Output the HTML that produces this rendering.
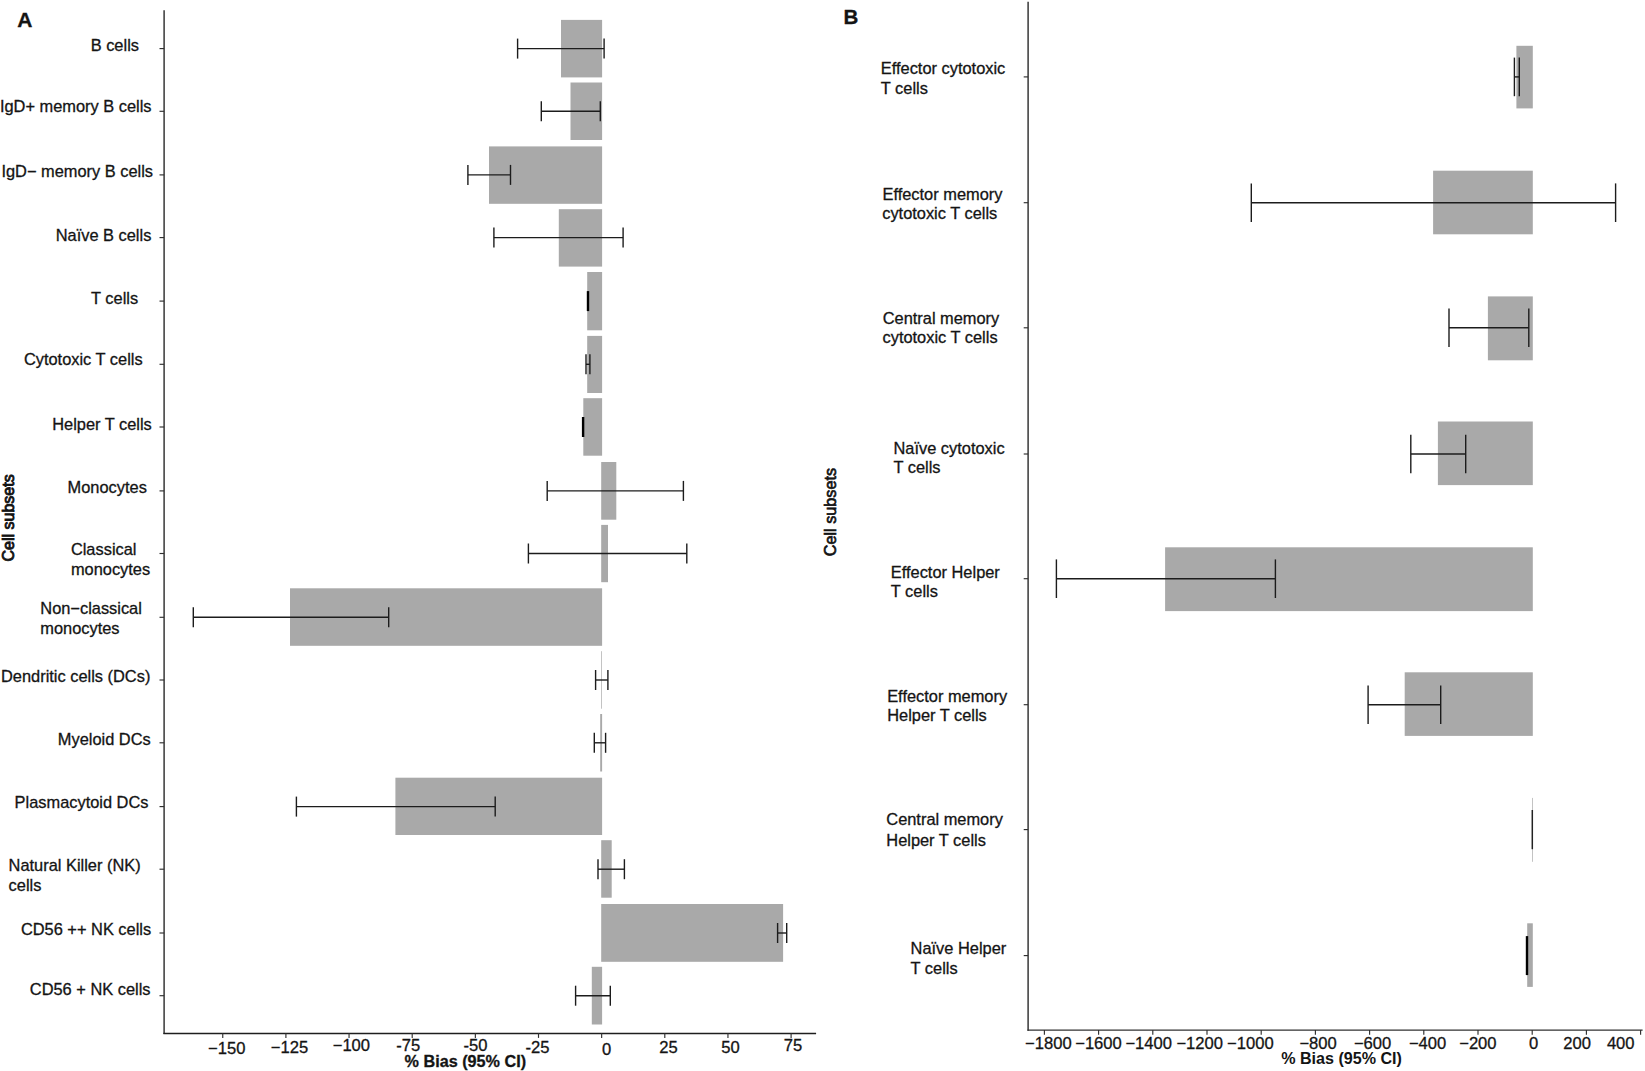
<!DOCTYPE html>
<html lang="en">
<head>
<meta charset="utf-8">
<title>Percent bias by cell subset</title>
<style>
html,body{margin:0;padding:0;background:#fff;}
body{width:1645px;height:1071px;overflow:hidden;}
svg{display:block;}
svg text{font-family:"Liberation Sans",Arial,Helvetica,sans-serif;fill:#141414;stroke:#141414;stroke-width:0.3px;white-space:pre;}
</style>
</head>
<body>
<svg width="1645" height="1071" viewBox="0 0 1645 1071">
<rect x="0" y="0" width="1645" height="1071" fill="#ffffff"/>
<rect x="561.00" y="19.90" width="41.10" height="57.50" fill="#a9a9a9"/>
<rect x="570.50" y="82.50" width="31.60" height="57.50" fill="#a9a9a9"/>
<rect x="489.00" y="146.40" width="113.10" height="57.40" fill="#a9a9a9"/>
<rect x="558.80" y="209.20" width="43.30" height="57.40" fill="#a9a9a9"/>
<rect x="587.20" y="272.00" width="14.90" height="58.30" fill="#a9a9a9"/>
<rect x="587.20" y="335.90" width="14.90" height="57.10" fill="#a9a9a9"/>
<rect x="583.30" y="398.20" width="18.80" height="57.50" fill="#a9a9a9"/>
<rect x="601.20" y="462.00" width="15.10" height="57.70" fill="#a9a9a9"/>
<rect x="601.20" y="524.90" width="6.80" height="57.30" fill="#a9a9a9"/>
<rect x="290.00" y="588.30" width="312.10" height="57.50" fill="#a9a9a9"/>
<rect x="601.30" y="651.20" width="0.70" height="57.50" fill="#a9a9a9"/>
<rect x="600.20" y="714.00" width="1.90" height="57.50" fill="#a9a9a9"/>
<rect x="395.40" y="777.70" width="206.70" height="57.30" fill="#a9a9a9"/>
<rect x="601.20" y="840.20" width="10.50" height="57.50" fill="#a9a9a9"/>
<rect x="601.20" y="904.00" width="181.90" height="57.80" fill="#a9a9a9"/>
<rect x="591.80" y="966.80" width="10.30" height="57.70" fill="#a9a9a9"/>
<line x1="517.60" y1="48.60" x2="604.10" y2="48.60" stroke="#1c1c1c" stroke-width="1.4"/>
<line x1="517.60" y1="38.60" x2="517.60" y2="58.60" stroke="#1c1c1c" stroke-width="1.4"/>
<line x1="604.10" y1="38.60" x2="604.10" y2="58.60" stroke="#1c1c1c" stroke-width="1.4"/>
<line x1="541.30" y1="111.30" x2="600.30" y2="111.30" stroke="#1c1c1c" stroke-width="1.4"/>
<line x1="541.30" y1="101.30" x2="541.30" y2="121.30" stroke="#1c1c1c" stroke-width="1.4"/>
<line x1="600.30" y1="101.30" x2="600.30" y2="121.30" stroke="#1c1c1c" stroke-width="1.4"/>
<line x1="467.90" y1="174.90" x2="510.50" y2="174.90" stroke="#1c1c1c" stroke-width="1.4"/>
<line x1="467.90" y1="164.90" x2="467.90" y2="184.90" stroke="#1c1c1c" stroke-width="1.4"/>
<line x1="510.50" y1="164.90" x2="510.50" y2="184.90" stroke="#1c1c1c" stroke-width="1.4"/>
<line x1="493.90" y1="237.60" x2="623.10" y2="237.60" stroke="#1c1c1c" stroke-width="1.4"/>
<line x1="493.90" y1="227.60" x2="493.90" y2="247.60" stroke="#1c1c1c" stroke-width="1.4"/>
<line x1="623.10" y1="227.60" x2="623.10" y2="247.60" stroke="#1c1c1c" stroke-width="1.4"/>
<line x1="588.00" y1="291.10" x2="588.00" y2="311.10" stroke="#000" stroke-width="2.4"/>
<line x1="586.00" y1="364.30" x2="589.90" y2="364.30" stroke="#1c1c1c" stroke-width="1.4"/>
<line x1="586.00" y1="354.30" x2="586.00" y2="374.30" stroke="#1c1c1c" stroke-width="1.4"/>
<line x1="589.90" y1="354.30" x2="589.90" y2="374.30" stroke="#1c1c1c" stroke-width="1.4"/>
<line x1="583.10" y1="417.00" x2="583.10" y2="437.00" stroke="#000" stroke-width="2.4"/>
<line x1="547.20" y1="490.90" x2="683.40" y2="490.90" stroke="#1c1c1c" stroke-width="1.4"/>
<line x1="547.20" y1="480.90" x2="547.20" y2="500.90" stroke="#1c1c1c" stroke-width="1.4"/>
<line x1="683.40" y1="480.90" x2="683.40" y2="500.90" stroke="#1c1c1c" stroke-width="1.4"/>
<line x1="528.40" y1="553.50" x2="686.80" y2="553.50" stroke="#1c1c1c" stroke-width="1.4"/>
<line x1="528.40" y1="543.50" x2="528.40" y2="563.50" stroke="#1c1c1c" stroke-width="1.4"/>
<line x1="686.80" y1="543.50" x2="686.80" y2="563.50" stroke="#1c1c1c" stroke-width="1.4"/>
<line x1="193.30" y1="617.30" x2="388.70" y2="617.30" stroke="#1c1c1c" stroke-width="1.4"/>
<line x1="193.30" y1="607.30" x2="193.30" y2="627.30" stroke="#1c1c1c" stroke-width="1.4"/>
<line x1="388.70" y1="607.30" x2="388.70" y2="627.30" stroke="#1c1c1c" stroke-width="1.4"/>
<line x1="595.60" y1="680.00" x2="607.90" y2="680.00" stroke="#1c1c1c" stroke-width="1.4"/>
<line x1="595.60" y1="670.00" x2="595.60" y2="690.00" stroke="#1c1c1c" stroke-width="1.4"/>
<line x1="607.90" y1="670.00" x2="607.90" y2="690.00" stroke="#1c1c1c" stroke-width="1.4"/>
<line x1="594.30" y1="742.80" x2="605.60" y2="742.80" stroke="#1c1c1c" stroke-width="1.4"/>
<line x1="594.30" y1="732.80" x2="594.30" y2="752.80" stroke="#1c1c1c" stroke-width="1.4"/>
<line x1="605.60" y1="732.80" x2="605.60" y2="752.80" stroke="#1c1c1c" stroke-width="1.4"/>
<line x1="296.40" y1="806.60" x2="495.20" y2="806.60" stroke="#1c1c1c" stroke-width="1.4"/>
<line x1="296.40" y1="796.60" x2="296.40" y2="816.60" stroke="#1c1c1c" stroke-width="1.4"/>
<line x1="495.20" y1="796.60" x2="495.20" y2="816.60" stroke="#1c1c1c" stroke-width="1.4"/>
<line x1="598.00" y1="869.20" x2="624.40" y2="869.20" stroke="#1c1c1c" stroke-width="1.4"/>
<line x1="598.00" y1="859.20" x2="598.00" y2="879.20" stroke="#1c1c1c" stroke-width="1.4"/>
<line x1="624.40" y1="859.20" x2="624.40" y2="879.20" stroke="#1c1c1c" stroke-width="1.4"/>
<line x1="777.60" y1="933.00" x2="786.70" y2="933.00" stroke="#1c1c1c" stroke-width="1.4"/>
<line x1="777.60" y1="923.00" x2="777.60" y2="943.00" stroke="#1c1c1c" stroke-width="1.4"/>
<line x1="786.70" y1="923.00" x2="786.70" y2="943.00" stroke="#1c1c1c" stroke-width="1.4"/>
<line x1="575.60" y1="995.70" x2="610.30" y2="995.70" stroke="#1c1c1c" stroke-width="1.4"/>
<line x1="575.60" y1="985.70" x2="575.60" y2="1005.70" stroke="#1c1c1c" stroke-width="1.4"/>
<line x1="610.30" y1="985.70" x2="610.30" y2="1005.70" stroke="#1c1c1c" stroke-width="1.4"/>
<line x1="164.10" y1="10.20" x2="164.10" y2="1033.95" stroke="#303030" stroke-width="1.45"/>
<line x1="163.40" y1="1033.45" x2="816.10" y2="1033.45" stroke="#1e1e1e" stroke-width="1.4"/>
<line x1="159.50" y1="48.60" x2="164.10" y2="48.60" stroke="#303030" stroke-width="1.15"/>
<line x1="159.50" y1="111.30" x2="164.10" y2="111.30" stroke="#303030" stroke-width="1.15"/>
<line x1="159.50" y1="174.90" x2="164.10" y2="174.90" stroke="#303030" stroke-width="1.15"/>
<line x1="159.50" y1="237.60" x2="164.10" y2="237.60" stroke="#303030" stroke-width="1.15"/>
<line x1="159.50" y1="301.10" x2="164.10" y2="301.10" stroke="#303030" stroke-width="1.15"/>
<line x1="159.50" y1="364.30" x2="164.10" y2="364.30" stroke="#303030" stroke-width="1.15"/>
<line x1="159.50" y1="427.00" x2="164.10" y2="427.00" stroke="#303030" stroke-width="1.15"/>
<line x1="159.50" y1="490.90" x2="164.10" y2="490.90" stroke="#303030" stroke-width="1.15"/>
<line x1="159.50" y1="553.50" x2="164.10" y2="553.50" stroke="#303030" stroke-width="1.15"/>
<line x1="159.50" y1="617.30" x2="164.10" y2="617.30" stroke="#303030" stroke-width="1.15"/>
<line x1="159.50" y1="680.00" x2="164.10" y2="680.00" stroke="#303030" stroke-width="1.15"/>
<line x1="159.50" y1="742.80" x2="164.10" y2="742.80" stroke="#303030" stroke-width="1.15"/>
<line x1="159.50" y1="806.60" x2="164.10" y2="806.60" stroke="#303030" stroke-width="1.15"/>
<line x1="159.50" y1="869.20" x2="164.10" y2="869.20" stroke="#303030" stroke-width="1.15"/>
<line x1="159.50" y1="933.00" x2="164.10" y2="933.00" stroke="#303030" stroke-width="1.15"/>
<line x1="159.50" y1="995.70" x2="164.10" y2="995.70" stroke="#303030" stroke-width="1.15"/>
<line x1="222.75" y1="1033.30" x2="222.75" y2="1037.90" stroke="#303030" stroke-width="1.15"/>
<line x1="285.90" y1="1033.30" x2="285.90" y2="1037.90" stroke="#303030" stroke-width="1.15"/>
<line x1="349.05" y1="1033.30" x2="349.05" y2="1037.90" stroke="#303030" stroke-width="1.15"/>
<line x1="412.20" y1="1033.30" x2="412.20" y2="1037.90" stroke="#303030" stroke-width="1.15"/>
<line x1="475.35" y1="1033.30" x2="475.35" y2="1037.90" stroke="#303030" stroke-width="1.15"/>
<line x1="538.50" y1="1033.30" x2="538.50" y2="1037.90" stroke="#303030" stroke-width="1.15"/>
<line x1="601.65" y1="1033.30" x2="601.65" y2="1037.90" stroke="#303030" stroke-width="1.15"/>
<line x1="664.80" y1="1033.30" x2="664.80" y2="1037.90" stroke="#303030" stroke-width="1.15"/>
<line x1="727.95" y1="1033.30" x2="727.95" y2="1037.90" stroke="#303030" stroke-width="1.15"/>
<line x1="791.10" y1="1033.30" x2="791.10" y2="1037.90" stroke="#303030" stroke-width="1.15"/>
<text x="208.00" y="1054.20" text-anchor="start" font-weight="normal" font-size="16.6" >−150</text>
<text x="270.80" y="1052.80" text-anchor="start" font-weight="normal" font-size="16.6" >−125</text>
<text x="332.70" y="1051.30" text-anchor="start" font-weight="normal" font-size="16.6" >−100</text>
<text x="396.30" y="1050.90" text-anchor="start" font-weight="normal" font-size="16.6" >-75</text>
<text x="463.40" y="1050.90" text-anchor="start" font-weight="normal" font-size="16.6" >-50</text>
<text x="525.40" y="1052.80" text-anchor="start" font-weight="normal" font-size="16.6" >-25</text>
<text x="602.10" y="1055.20" text-anchor="start" font-weight="normal" font-size="16.6" >0</text>
<text x="659.30" y="1052.80" text-anchor="start" font-weight="normal" font-size="16.6" >25</text>
<text x="721.20" y="1052.80" text-anchor="start" font-weight="normal" font-size="16.6" >50</text>
<text x="783.80" y="1051.30" text-anchor="start" font-weight="normal" font-size="16.6" >75</text>
<text x="404.60" y="1066.80" text-anchor="start" font-weight="bold" font-size="16.2" >% Bias (95% CI)</text>
<text x="90.70" y="50.80" text-anchor="start" font-weight="normal" font-size="16.4" >B cells</text>
<text x="-0.10" y="112.00" text-anchor="start" font-weight="normal" font-size="16.4" >IgD+ memory B cells</text>
<text x="1.40" y="176.90" text-anchor="start" font-weight="normal" font-size="16.4" >IgD− memory B cells</text>
<text x="55.70" y="240.90" text-anchor="start" font-weight="normal" font-size="16.4" >Naïve B cells</text>
<text x="91.10" y="303.60" text-anchor="start" font-weight="normal" font-size="16.4" >T cells</text>
<text x="23.90" y="364.90" text-anchor="start" font-weight="normal" font-size="16.4" >Cytotoxic T cells</text>
<text x="52.20" y="429.90" text-anchor="start" font-weight="normal" font-size="16.4" >Helper T cells</text>
<text x="67.60" y="492.60" text-anchor="start" font-weight="normal" font-size="16.4" >Monocytes</text>
<text x="70.90" y="555.00" text-anchor="start" font-weight="normal" font-size="16.4" >Classical</text>
<text x="70.90" y="575.10" text-anchor="start" font-weight="normal" font-size="16.4" >monocytes</text>
<text x="40.30" y="614.00" text-anchor="start" font-weight="normal" font-size="16.4" >Non−classical</text>
<text x="40.30" y="634.10" text-anchor="start" font-weight="normal" font-size="16.4" >monocytes</text>
<text x="1.00" y="681.80" text-anchor="start" font-weight="normal" font-size="16.4" >Dendritic cells (DCs)</text>
<text x="57.80" y="745.20" text-anchor="start" font-weight="normal" font-size="16.4" >Myeloid DCs</text>
<text x="14.60" y="808.30" text-anchor="start" font-weight="normal" font-size="16.4" >Plasmacytoid DCs</text>
<text x="8.60" y="871.10" text-anchor="start" font-weight="normal" font-size="16.4" >Natural Killer (NK)</text>
<text x="8.60" y="891.00" text-anchor="start" font-weight="normal" font-size="16.4" >cells</text>
<text x="20.90" y="935.00" text-anchor="start" font-weight="normal" font-size="16.4" >CD56 ++ NK cells</text>
<text x="29.80" y="995.10" text-anchor="start" font-weight="normal" font-size="16.4" >CD56 + NK cells</text>
<text x="17.30" y="27.20" text-anchor="start" font-weight="bold" font-size="21" >A</text>
<text transform="translate(14.2,561.6) rotate(-90)" font-size="16.3" style="stroke-width:0.9px" textLength="87.3" lengthAdjust="spacingAndGlyphs">Cell subsets</text>
<rect x="1516.40" y="45.80" width="16.40" height="62.60" fill="#a9a9a9"/>
<rect x="1433.10" y="170.70" width="99.70" height="63.60" fill="#a9a9a9"/>
<rect x="1487.90" y="296.40" width="44.90" height="63.90" fill="#a9a9a9"/>
<rect x="1437.90" y="421.50" width="94.90" height="63.60" fill="#a9a9a9"/>
<rect x="1165.10" y="547.30" width="367.70" height="63.80" fill="#a9a9a9"/>
<rect x="1404.70" y="672.30" width="128.10" height="63.60" fill="#a9a9a9"/>
<rect x="1532.00" y="797.90" width="0.70" height="63.90" fill="#a9a9a9"/>
<rect x="1527.20" y="923.30" width="5.60" height="63.60" fill="#a9a9a9"/>
<line x1="1514.40" y1="76.90" x2="1519.30" y2="76.90" stroke="#1c1c1c" stroke-width="1.4"/>
<line x1="1514.40" y1="57.60" x2="1514.40" y2="96.20" stroke="#1c1c1c" stroke-width="1.4"/>
<line x1="1519.30" y1="57.60" x2="1519.30" y2="96.20" stroke="#1c1c1c" stroke-width="1.4"/>
<line x1="1251.30" y1="202.70" x2="1615.60" y2="202.70" stroke="#1c1c1c" stroke-width="1.4"/>
<line x1="1251.30" y1="183.40" x2="1251.30" y2="222.00" stroke="#1c1c1c" stroke-width="1.4"/>
<line x1="1615.60" y1="183.40" x2="1615.60" y2="222.00" stroke="#1c1c1c" stroke-width="1.4"/>
<line x1="1449.00" y1="327.80" x2="1528.80" y2="327.80" stroke="#1c1c1c" stroke-width="1.4"/>
<line x1="1449.00" y1="308.50" x2="1449.00" y2="347.10" stroke="#1c1c1c" stroke-width="1.4"/>
<line x1="1528.80" y1="308.50" x2="1528.80" y2="347.10" stroke="#1c1c1c" stroke-width="1.4"/>
<line x1="1410.80" y1="454.00" x2="1465.70" y2="454.00" stroke="#1c1c1c" stroke-width="1.4"/>
<line x1="1410.80" y1="434.70" x2="1410.80" y2="473.30" stroke="#1c1c1c" stroke-width="1.4"/>
<line x1="1465.70" y1="434.70" x2="1465.70" y2="473.30" stroke="#1c1c1c" stroke-width="1.4"/>
<line x1="1056.40" y1="578.70" x2="1275.40" y2="578.70" stroke="#1c1c1c" stroke-width="1.4"/>
<line x1="1056.40" y1="559.40" x2="1056.40" y2="598.00" stroke="#1c1c1c" stroke-width="1.4"/>
<line x1="1275.40" y1="559.40" x2="1275.40" y2="598.00" stroke="#1c1c1c" stroke-width="1.4"/>
<line x1="1368.10" y1="704.70" x2="1440.70" y2="704.70" stroke="#1c1c1c" stroke-width="1.4"/>
<line x1="1368.10" y1="685.40" x2="1368.10" y2="724.00" stroke="#1c1c1c" stroke-width="1.4"/>
<line x1="1440.70" y1="685.40" x2="1440.70" y2="724.00" stroke="#1c1c1c" stroke-width="1.4"/>
<line x1="1532.30" y1="810.00" x2="1532.30" y2="849.20" stroke="#222" stroke-width="1.5"/>
<line x1="1527.00" y1="936.10" x2="1527.00" y2="975.10" stroke="#000" stroke-width="2.4"/>
<line x1="1028.10" y1="1.80" x2="1028.10" y2="1030.75" stroke="#303030" stroke-width="1.45"/>
<line x1="1027.45" y1="1030.10" x2="1642.60" y2="1030.10" stroke="#303030" stroke-width="1.45"/>
<line x1="1023.70" y1="76.90" x2="1028.10" y2="76.90" stroke="#303030" stroke-width="1.15"/>
<line x1="1023.70" y1="202.70" x2="1028.10" y2="202.70" stroke="#303030" stroke-width="1.15"/>
<line x1="1023.70" y1="327.80" x2="1028.10" y2="327.80" stroke="#303030" stroke-width="1.15"/>
<line x1="1023.70" y1="454.00" x2="1028.10" y2="454.00" stroke="#303030" stroke-width="1.15"/>
<line x1="1023.70" y1="578.70" x2="1028.10" y2="578.70" stroke="#303030" stroke-width="1.15"/>
<line x1="1023.70" y1="704.70" x2="1028.10" y2="704.70" stroke="#303030" stroke-width="1.15"/>
<line x1="1023.70" y1="829.60" x2="1028.10" y2="829.60" stroke="#303030" stroke-width="1.15"/>
<line x1="1023.70" y1="955.60" x2="1028.10" y2="955.60" stroke="#303030" stroke-width="1.15"/>
<line x1="1044.40" y1="1030.10" x2="1044.40" y2="1034.70" stroke="#303030" stroke-width="1.15"/>
<line x1="1098.60" y1="1030.10" x2="1098.60" y2="1034.70" stroke="#303030" stroke-width="1.15"/>
<line x1="1152.80" y1="1030.10" x2="1152.80" y2="1034.70" stroke="#303030" stroke-width="1.15"/>
<line x1="1207.00" y1="1030.10" x2="1207.00" y2="1034.70" stroke="#303030" stroke-width="1.15"/>
<line x1="1261.20" y1="1030.10" x2="1261.20" y2="1034.70" stroke="#303030" stroke-width="1.15"/>
<line x1="1315.40" y1="1030.10" x2="1315.40" y2="1034.70" stroke="#303030" stroke-width="1.15"/>
<line x1="1369.60" y1="1030.10" x2="1369.60" y2="1034.70" stroke="#303030" stroke-width="1.15"/>
<line x1="1423.80" y1="1030.10" x2="1423.80" y2="1034.70" stroke="#303030" stroke-width="1.15"/>
<line x1="1478.00" y1="1030.10" x2="1478.00" y2="1034.70" stroke="#303030" stroke-width="1.15"/>
<line x1="1532.20" y1="1030.10" x2="1532.20" y2="1034.70" stroke="#303030" stroke-width="1.15"/>
<line x1="1586.40" y1="1030.10" x2="1586.40" y2="1034.70" stroke="#303030" stroke-width="1.15"/>
<line x1="1640.60" y1="1030.10" x2="1640.60" y2="1034.70" stroke="#303030" stroke-width="1.15"/>
<text x="1025.10" y="1049.00" text-anchor="start" font-weight="normal" font-size="16.6" >−1800</text>
<text x="1075.20" y="1049.00" text-anchor="start" font-weight="normal" font-size="16.6" >−1600</text>
<text x="1125.40" y="1049.00" text-anchor="start" font-weight="normal" font-size="16.6" >−1400</text>
<text x="1176.40" y="1049.00" text-anchor="start" font-weight="normal" font-size="16.6" >−1200</text>
<text x="1227.00" y="1049.00" text-anchor="start" font-weight="normal" font-size="16.6" >−1000</text>
<text x="1299.40" y="1049.00" text-anchor="start" font-weight="normal" font-size="16.6" >−800</text>
<text x="1353.90" y="1049.00" text-anchor="start" font-weight="normal" font-size="16.6" >−600</text>
<text x="1408.90" y="1049.00" text-anchor="start" font-weight="normal" font-size="16.6" >−400</text>
<text x="1459.20" y="1049.00" text-anchor="start" font-weight="normal" font-size="16.6" >−200</text>
<text x="1529.00" y="1049.00" text-anchor="start" font-weight="normal" font-size="16.6" >0</text>
<text x="1563.20" y="1049.00" text-anchor="start" font-weight="normal" font-size="16.6" >200</text>
<text x="1606.90" y="1049.00" text-anchor="start" font-weight="normal" font-size="16.6" >400</text>
<text x="1281.20" y="1064.00" text-anchor="start" font-weight="bold" font-size="16.1" style="stroke-width:0">% Bias (95% CI)</text>
<text x="880.80" y="74.00" text-anchor="start" font-weight="normal" font-size="16.4" >Effector cytotoxic</text>
<text x="880.80" y="94.10" text-anchor="start" font-weight="normal" font-size="16.4" >T cells</text>
<text x="882.50" y="200.10" text-anchor="start" font-weight="normal" font-size="16.4" >Effector memory</text>
<text x="882.20" y="219.00" text-anchor="start" font-weight="normal" font-size="16.4" >cytotoxic T cells</text>
<text x="882.70" y="323.50" text-anchor="start" font-weight="normal" font-size="16.4" >Central memory</text>
<text x="882.50" y="342.50" text-anchor="start" font-weight="normal" font-size="16.4" >cytotoxic T cells</text>
<text x="893.50" y="454.30" text-anchor="start" font-weight="normal" font-size="16.4" >Naïve cytotoxic</text>
<text x="893.50" y="473.20" text-anchor="start" font-weight="normal" font-size="16.4" >T cells</text>
<text x="890.80" y="578.00" text-anchor="start" font-weight="normal" font-size="16.4" >Effector Helper</text>
<text x="890.80" y="597.00" text-anchor="start" font-weight="normal" font-size="16.4" >T cells</text>
<text x="887.20" y="701.60" text-anchor="start" font-weight="normal" font-size="16.4" >Effector memory</text>
<text x="887.20" y="720.70" text-anchor="start" font-weight="normal" font-size="16.4" >Helper T cells</text>
<text x="886.30" y="825.00" text-anchor="start" font-weight="normal" font-size="16.4" >Central memory</text>
<text x="886.30" y="845.50" text-anchor="start" font-weight="normal" font-size="16.4" >Helper T cells</text>
<text x="910.60" y="953.60" text-anchor="start" font-weight="normal" font-size="16.4" >Naïve Helper</text>
<text x="910.60" y="973.80" text-anchor="start" font-weight="normal" font-size="16.4" >T cells</text>
<text x="843.40" y="23.90" text-anchor="start" font-weight="bold" font-size="20.5" >B</text>
<text transform="translate(835.9,556.2) rotate(-90)" font-size="16.3" style="stroke-width:0.7px" textLength="88.3" lengthAdjust="spacingAndGlyphs">Cell subsets</text>
</svg>
</body>
</html>
